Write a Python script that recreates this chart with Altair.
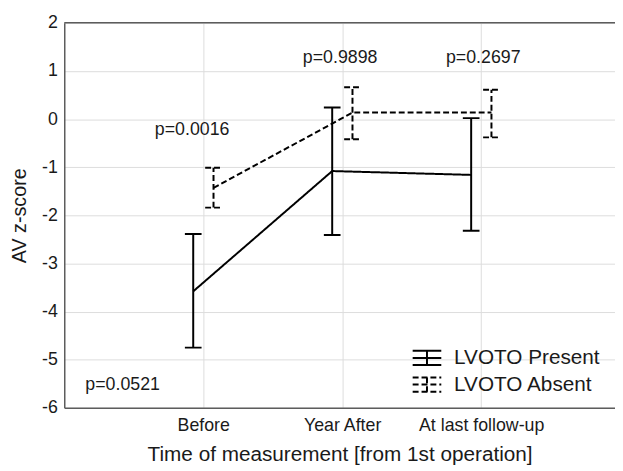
import altair as alt
import pandas as pd

# ---- data ----
categories = ["Before", "Year After", "At last follow-up"]
groups = ["LVOTO Present", "LVOTO Absent"]

present_mean = [-3.58, -1.08, -1.16]
present_upper = [-2.39, 0.24, 0.02]
present_lower = [-4.75, -2.41, -2.32]

absent_mean = [-1.43, 0.135, 0.135]
absent_upper = [-1.01, 0.66, 0.61]
absent_lower = [-1.84, -0.42, -0.38]

p_labels = ["p=0.0521", "p=0.0016", "p=0.9898", "p=0.2697"]
p_x = [0.42, 0.92, 1.985, 3.015]
p_y = [-5.52, -0.22, 1.26, 1.26]

y_ticks = [-6, -5, -4, -3, -2, -1, 0, 1, 2]

# ---- layout / style ----
FONT = "Liberation Sans"
TXT = "#1a1a1a"
FRAME = "#5c5c5c"
GRID = "#dcdcdc"
OFFSET = {"LVOTO Present": -0.072, "LVOTO Absent": 0.074}
CAP = 0.06
XMAX = 3.963
DASHES = [[1, 0], [6, 3]]

rows = []
for g, means, ups, lows in [
    (groups[0], present_mean, present_upper, present_lower),
    (groups[1], absent_mean, absent_upper, absent_lower),
]:
    for i, cat in enumerate(categories):
        rows.append(dict(group=g, cat=cat, pos=i + 1 + OFFSET[g],
                         mean=means[i], upper=ups[i], lower=lows[i]))
df = pd.DataFrame(rows)
df_p = pd.DataFrame({"label": p_labels, "x": p_x, "y": p_y})
df_top = pd.DataFrame({"v": [max(y_ticks)]})

label_expr = " : ".join(
    f"datum.value == {i + 1} ? '{c}'" for i, c in enumerate(categories[:-1])
) + f" : '{categories[-1]}'"

xscale = alt.Scale(domain=[0, XMAX], nice=False, zero=False)
yscale = alt.Scale(domain=[min(y_ticks), max(y_ticks)], nice=False, zero=False)

x_axis = alt.Axis(values=[1, 2, 3], labelExpr=label_expr,
                  title="Time of measurement [from 1st operation]",
                  grid=True, ticks=False, labelPadding=9, titlePadding=9,
                  labelFontSize=18, titleFontSize=21)
y_axis = alt.Axis(values=y_ticks, labelExpr="'' + datum.value",
                  title="AV z-score", grid=True, ticks=False,
                  labelPadding=7, titlePadding=12,
                  labelFontSize=18, titleFontSize=20)

dash_scale = alt.Scale(domain=groups, range=DASHES)
GLYPH = "M-1,-0.5H1M-1,0H1M-1,0.5H1M0,-0.5V0.5"
legend = alt.Legend(title=None, orient="none", legendX=352, legendY=324,
                    symbolType=GLYPH, symbolSize=841, symbolStrokeWidth=2,
                    symbolStrokeColor="black", labelFont=FONT,
                    labelFontSize=21, labelColor=TXT, labelOffset=12,
                    rowPadding=-6)

base = alt.Chart(df).transform_calculate(
    cap_l=f"datum.pos - {CAP}", cap_r=f"datum.pos + {CAP}"
)

top = alt.Chart(df_top).mark_rule(color=FRAME, strokeWidth=1.5).encode(
    y=alt.Y("v:Q", scale=yscale, axis=y_axis)
)

line = base.mark_line(color="black", strokeWidth=2).encode(
    x=alt.X("pos:Q", scale=xscale, axis=x_axis),
    y=alt.Y("mean:Q", scale=yscale, axis=y_axis),
    strokeDash=alt.StrokeDash("group:N", scale=dash_scale, legend=legend),
)

stems = base.mark_rule(color="black", strokeWidth=2).encode(
    x=alt.X("pos:Q", scale=xscale),
    y=alt.Y("lower:Q", scale=yscale),
    y2="upper:Q",
    strokeDash=alt.StrokeDash("group:N", scale=dash_scale, legend=None),
)

cap_hi = base.mark_rule(color="black", strokeWidth=2).encode(
    x=alt.X("cap_l:Q", scale=xscale),
    x2="cap_r:Q",
    y=alt.Y("upper:Q", scale=yscale),
    strokeDash=alt.StrokeDash("group:N", scale=dash_scale, legend=None),
)

cap_lo = base.mark_rule(color="black", strokeWidth=2).encode(
    x=alt.X("cap_l:Q", scale=xscale),
    x2="cap_r:Q",
    y=alt.Y("lower:Q", scale=yscale),
    strokeDash=alt.StrokeDash("group:N", scale=dash_scale, legend=None),
)

ptext = alt.Chart(df_p).mark_text(font=FONT, fontSize=18, color=TXT,
                                  align="center", baseline="middle").encode(
    x=alt.X("x:Q", scale=xscale),
    y=alt.Y("y:Q", scale=yscale),
    text="label:N",
)

chart = alt.layer(top, line, stems, cap_hi, cap_lo, ptext).properties(
    width=558, height=390,
    padding={"left": 57, "top": 12, "right": 0, "bottom": 61},
    autosize="none",
).configure_view(stroke=None).configure_axis(
    labelFont=FONT, titleFont=FONT, labelColor=TXT, titleColor=TXT,
    titleFontWeight="normal", domainColor=FRAME, domainWidth=1.5,
    gridColor=GRID, gridWidth=1,
)

chart.save("out.html", embed_options={"renderer": "svg", "actions": False})
